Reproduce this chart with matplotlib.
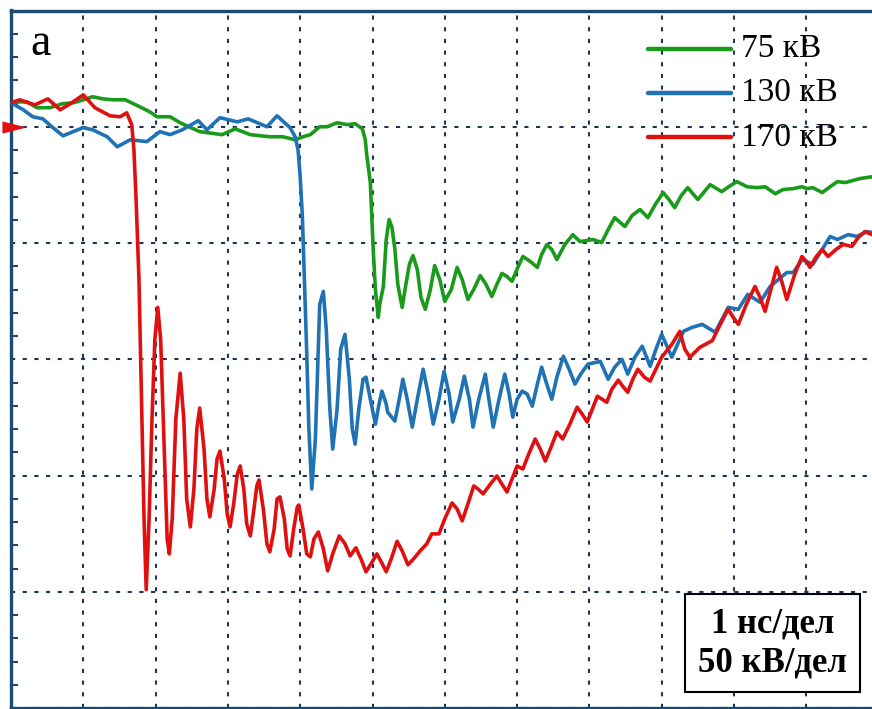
import matplotlib
matplotlib.use("Agg")
import matplotlib.pyplot as plt
from matplotlib.path import Path

# ---- data: time in ns, voltage in kV ----
t_75 = [0.00, 0.12, 0.22, 0.36, 0.54, 0.71, 0.86, 1.00, 1.13, 1.27, 1.41, 1.58, 1.78, 1.92, 2.02, 2.20,
        2.34, 2.61, 2.92, 3.10, 3.31, 3.58, 3.76, 3.93, 4.04, 4.14, 4.27, 4.37, 4.51, 4.65, 4.76, 4.86,
        4.90, 4.92, 4.97, 5.01, 5.04, 5.08, 5.10, 5.15, 5.19, 5.23, 5.27, 5.31, 5.35, 5.41, 5.45, 5.51,
        5.56, 5.62, 5.67, 5.73, 5.80, 5.86, 5.93, 6.00, 6.09, 6.17, 6.24, 6.32, 6.40, 6.49, 6.57, 6.65,
        6.72, 6.79, 6.86, 6.93, 7.01, 7.08, 7.18, 7.28, 7.34, 7.41, 7.48, 7.55, 7.66, 7.77, 7.87, 7.97,
        8.05, 8.17, 8.26, 8.35, 8.49, 8.59, 8.70, 8.81, 8.91, 9.02, 9.10, 9.18, 9.27, 9.36, 9.50, 9.59,
        9.67, 9.83, 9.95, 10.04, 10.18, 10.32, 10.43, 10.57, 10.68, 10.82, 10.94, 11.01, 11.09, 11.22,
        11.33, 11.43, 11.54, 11.74, 11.91]
v_75 = [10.3, 10.7, 10.7, 8.2, 8.2, 9.9, 10.3, 11.6, 12.9, 12.0, 11.6, 11.6, 8.6, 6.4, 4.3, 4.3,
        1.7, -2.1, -3.4, -0.9, -3.4, -4.3, -4.3, -5.6, -4.3, -3.4, 0.0, 0.0, 1.7, 0.9, 1.3, -0.9,
        -5.6, -12.0, -24.0, -52.8, -70.0, -82.0, -76.4, -68.7, -48.5, -39.9, -43.4, -52.8, -67.8, -77.7, -70.0, -59.2,
        -55.4, -61.4, -73.4, -78.5, -70.0, -59.7, -65.7, -75.1, -70.0, -60.5, -65.7, -74.3, -70.0, -64.0, -67.8, -73.0,
        -67.8, -63.1, -64.4, -66.5, -60.5, -55.8, -57.9, -60.5, -54.9, -50.7, -52.8, -57.1, -50.7, -46.4, -49.4, -48.9,
        -48.5, -49.8, -44.2, -39.1, -42.9, -38.2, -35.6, -39.1, -33.5, -28.3, -31.3, -34.8, -29.6, -26.2, -31.3, -27.9,
        -24.9, -27.9, -25.3, -23.6, -25.8, -26.2, -25.8, -28.8, -27.0, -26.6, -25.8, -26.6, -26.2, -28.3,
        -25.8, -23.6, -24.0, -22.3, -21.5]

t_130 = [0.00, 0.17, 0.30, 0.44, 0.58, 0.72, 0.86, 1.00, 1.13, 1.33, 1.47, 1.65, 1.88, 2.06, 2.20, 2.37,
         2.59, 2.71, 2.89, 3.13, 3.28, 3.54, 3.68, 3.86, 3.93, 3.97, 4.00, 4.03, 4.07, 4.09, 4.12, 4.16,
         4.21, 4.25, 4.27, 4.32, 4.36, 4.41, 4.45, 4.51, 4.56, 4.62, 4.68, 4.72, 4.76, 4.81, 4.87, 4.91,
         4.97, 5.04, 5.09, 5.13, 5.19, 5.21, 5.31, 5.37, 5.42, 5.48, 5.55, 5.62, 5.70, 5.77, 5.84, 5.92,
         5.99, 6.06, 6.11, 6.20, 6.27, 6.34, 6.39, 6.47, 6.56, 6.61, 6.67, 6.75, 6.83, 6.89, 6.94, 7.00,
         7.07, 7.14, 7.21, 7.28, 7.34, 7.41, 7.48, 7.55, 7.64, 7.72, 7.80, 7.88, 7.98, 8.15, 8.26, 8.35,
         8.45, 8.53, 8.63, 8.73, 8.84, 8.92, 9.00, 9.14, 9.30, 9.42, 9.56, 9.74, 9.92, 10.06, 10.19, 10.36,
         10.50, 10.73, 10.82, 10.94, 11.09, 11.33, 11.43, 11.58, 11.70, 11.84, 11.91]
v_130 = [10.3, 7.3, 4.3, 3.4, -0.4, -3.9, -2.1, -0.4, -1.3, -4.3, -8.6, -5.6, -6.4, -2.1, -3.4, -1.3,
         2.6, -1.3, 3.9, 2.1, 3.4, 0.0, 4.7, -0.4, -4.3, -9.9, -21.5, -38.6, -77.3, -97.0, -130.0, -155.8,
         -134.3, -95.7, -76.4, -70.8, -87.1, -121.5, -138.6, -121.5, -95.7, -89.3, -108.6, -130.0, -136.5, -121.5, -108.6, -107.7,
         -117.2, -127.9, -119.3, -113.7, -119.3, -122.8, -126.6, -117.2, -108.6, -117.2, -129.2, -117.2, -104.3, -115.0, -127.9, -117.2,
         -105.2, -115.0, -127.0, -117.2, -107.3, -117.2, -129.2, -117.2, -106.4, -117.2, -129.2, -117.2, -106.4, -115.0, -124.9, -117.2,
         -113.7, -115.0, -120.2, -110.7, -103.4, -110.7, -117.2, -107.7, -98.7, -104.3, -110.7, -106.4, -102.1, -100.9, -108.6, -103.4,
         -100.0, -106.4, -99.1, -94.4, -103.0, -95.7, -89.3, -99.1, -88.0, -86.3, -85.0, -88.4, -77.7, -78.5, -72.1, -75.5,
         -68.7, -62.7, -62.7, -57.1, -59.2, -47.2, -48.5, -46.4, -47.2, -45.1, -45.5]

t_170 = [0.00, 0.12, 0.33, 0.51, 0.68, 0.82, 1.00, 1.16, 1.37, 1.51, 1.60, 1.67, 1.70, 1.73, 1.77, 1.81,
         1.84, 1.87, 1.91, 1.95, 1.99, 2.03, 2.07, 2.12, 2.16, 2.19, 2.23, 2.28, 2.34, 2.39, 2.43, 2.48,
         2.53, 2.57, 2.61, 2.67, 2.71, 2.75, 2.81, 2.85, 2.89, 2.95, 2.99, 3.03, 3.08, 3.13, 3.17, 3.22,
         3.26, 3.31, 3.36, 3.40, 3.43, 3.49, 3.54, 3.58, 3.64, 3.68, 3.72, 3.78, 3.82, 3.86, 3.91, 3.96,
         3.98, 4.04, 4.09, 4.14, 4.19, 4.25, 4.32, 4.38, 4.45, 4.54, 4.62, 4.69, 4.77, 4.84, 4.91, 4.98,
         5.06, 5.12, 5.19, 5.26, 5.34, 5.41, 5.49, 5.57, 5.66, 5.75, 5.82, 5.92, 6.00, 6.10, 6.17, 6.24,
         6.32, 6.40, 6.46, 6.53, 6.63, 6.72, 6.79, 6.86, 6.93, 7.00, 7.08, 7.16, 7.25, 7.32, 7.39, 7.47,
         7.55, 7.63, 7.73, 7.83, 7.90, 7.97, 8.04, 8.11, 8.24, 8.31, 8.40, 8.46, 8.53, 8.60, 8.67, 8.76,
         8.84, 8.92, 9.00, 9.14, 9.25, 9.32, 9.39, 9.53, 9.70, 9.81, 9.92, 9.99, 10.06, 10.17, 10.29, 10.36,
         10.43, 10.51, 10.59, 10.66, 10.73, 10.84, 10.94, 11.00, 11.05, 11.13, 11.22, 11.30, 11.41, 11.51,
         11.63, 11.72, 11.81, 11.91]
v_170 = [10.3, 11.6, 9.4, 12.0, 7.3, 9.9, 13.7, 8.2, 4.7, 4.3, 6.0, 0.9, -9.9, -31.3, -65.7, -125.7,
         -168.6, -199.1, -168.6, -125.7, -91.4, -77.7, -91.4, -138.6, -177.3, -183.7, -168.6, -125.7, -106.0, -125.7, -160.1, -172.1,
         -155.8, -130.0, -121.0, -138.6, -160.1, -167.8, -155.8, -142.9, -139.5, -151.5, -166.5, -172.1, -162.2, -149.4, -145.9, -155.8,
         -170.8, -176.0, -164.4, -154.5, -151.9, -164.4, -179.4, -182.8, -173.0, -160.1, -159.2, -168.6, -181.5, -184.6, -173.0, -163.5,
         -162.7, -173.0, -183.7, -185.0, -177.3, -174.3, -181.5, -191.0, -183.7, -176.0, -179.4, -184.6, -181.1, -185.8, -191.4, -188.0,
         -183.7, -187.1, -191.4, -185.8, -178.3, -182.4, -188.4, -185.8, -182.4, -179.4, -175.1, -175.1, -168.6, -161.8, -164.4, -169.5,
         -162.2, -154.5, -155.8, -157.9, -153.7, -150.2, -153.7, -157.1, -151.5, -145.9, -147.2, -140.8, -134.3, -138.6, -143.8, -137.8,
         -131.3, -134.3, -127.9, -120.6, -123.6, -127.0, -121.5, -115.9, -118.5, -112.9, -109.0, -111.6, -114.2, -108.6, -104.3, -107.7,
         -109.4, -104.3, -99.1, -93.6, -88.0, -95.7, -99.1, -94.8, -92.0, -85.0, -78.5, -82.0, -85.0, -76.4, -68.7, -73.4,
         -79.4, -70.0, -60.5, -66.5, -74.3, -63.5, -55.8, -57.9, -60.5, -56.2, -52.8, -55.8, -52.8, -50.6,
         -51.5, -47.6, -45.1, -46.4]

labels = ["75 кВ", "130 кВ", "170 кВ"]
colors = ["#1a9a1a", "#1f72b4", "#e01010"]
panel_label = "а"
scale_text = "1 нс/дел\n50 кВ/дел"

# ---- figure ----
W, H, DPI = 872, 709, 100
fig = plt.figure(figsize=(W / DPI, H / DPI), dpi=DPI)
ax = fig.add_axes([11 / W, 1.0 / H, 867.6 / W, 697.5 / H])
ax.set_xlim(0, 12)
ax.set_ylim(-250, 50)

frame_col = "#1b4a72"
grid_col = "#1f3550"
for s in ax.spines.values():
    s.set_color(frame_col)
    s.set_linewidth(2.4)

ax.set_xticks(range(0, 13))
ax.set_yticks(range(-250, 51, 50))
ax.set_yticks(range(-250, 51, 10), minor=True)
ax.tick_params(axis="both", which="major", length=0, labelleft=False, labelbottom=False)
ax.tick_params(axis="y", which="minor", direction="in", length=5, width=1.5, color=frame_col)
ax.tick_params(axis="x", which="minor", length=0)
ax.grid(True, which="major", color=grid_col, linestyle=(0, (2.0, 3.6)), linewidth=1.5)

lw = 2.6
for t, v, c, lab in zip([t_75, t_130, t_170], [v_75, v_130, v_170], colors, labels):
    ax.plot(t, v, color=c, lw=lw, solid_joinstyle="round", solid_capstyle="round", zorder=3)

# legend (manual, like the oscilloscope annotation)
leg_y = [0.945, 0.882, 0.818]
for c, lab, yy in zip(colors, labels, leg_y):
    ax.plot([0.734, 0.830], [yy, yy], transform=ax.transAxes, color=c, lw=3.2,
            solid_capstyle="round", zorder=4)
    ax.text(0.841, yy, lab, transform=ax.transAxes, fontsize=24, family="Liberation Serif",
            va="center", ha="left", color="black", zorder=4)

ax.text(0.022, 0.952, panel_label, transform=ax.transAxes, fontsize=33,
        family="Liberation Serif", va="center", ha="left", color="black")

ax.text(0.878, 0.093, scale_text, transform=ax.transAxes, fontsize=25,
        family="Liberation Serif", fontweight="bold", va="center", ha="center",
        linespacing=1.25, color="black", zorder=5,
        bbox=dict(boxstyle="square,pad=0.38", facecolor="white", edgecolor="black", linewidth=1.5))

# zero-level marker
tri = Path([(-1.0, -0.5), (1.0, 0.0), (-1.0, 0.5), (-1.0, -0.5)],
           [Path.MOVETO, Path.LINETO, Path.LINETO, Path.CLOSEPOLY])
ax.plot([0.03], [0.0], marker=tri, markersize=15, color="#e01010", clip_on=False, zorder=6)

fig.savefig("out.png", dpi=DPI)
